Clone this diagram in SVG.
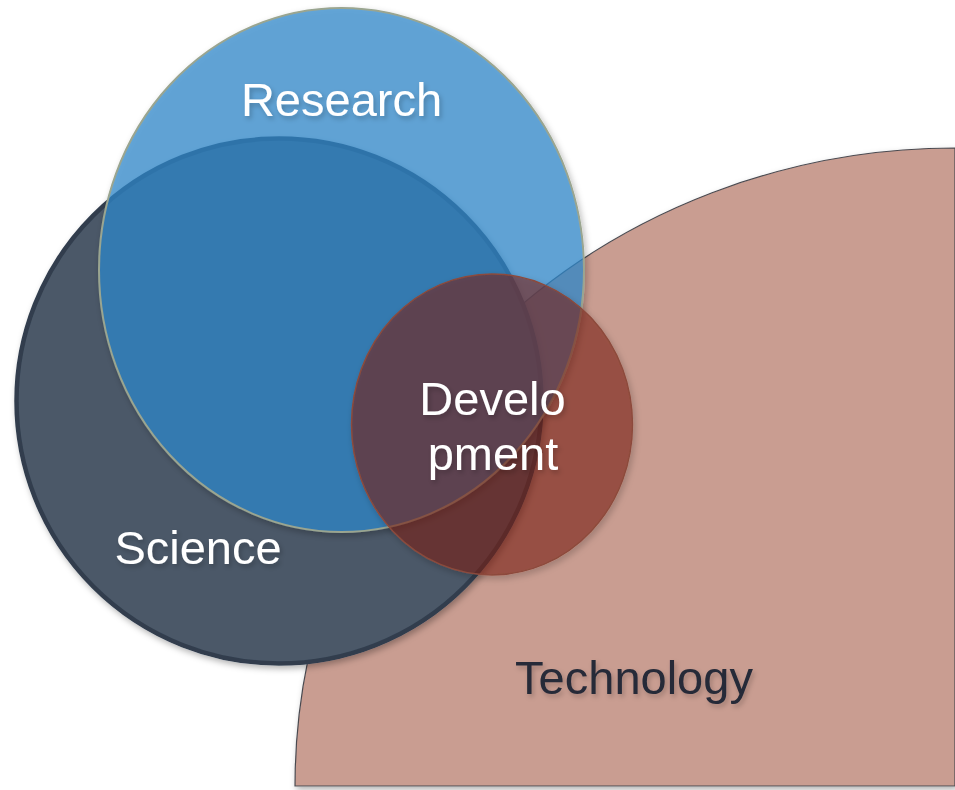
<svg xmlns="http://www.w3.org/2000/svg" width="955" height="790" viewBox="0 0 955 790">
<style>
  .lbl { font-family: "Liberation Sans", Arial, sans-serif; font-size: 47px; text-anchor: middle; }
  .w { fill: #ffffff; }
  .d { fill: #262a38; }
</style>
<defs>
  <filter id="sh" x="-10%" y="-10%" width="125%" height="125%">
    <feGaussianBlur in="SourceAlpha" stdDeviation="3"/>
    <feOffset dx="2" dy="3" result="b"/>
    <feComposite in="b" in2="SourceAlpha" operator="out" result="o"/>
    <feFlood flood-color="#000" flood-opacity="0.3"/>
    <feComposite in2="o" operator="in" result="s"/>
    <feMerge><feMergeNode in="s"/><feMergeNode in="SourceGraphic"/></feMerge>
  </filter>
  <filter id="tsh" x="-10%" y="-20%" width="130%" height="150%">
    <feGaussianBlur in="SourceAlpha" stdDeviation="2.5"/>
    <feOffset dx="2" dy="3" result="b"/>
    <feFlood flood-color="#000" flood-opacity="0.22"/>
    <feComposite in2="b" operator="in" result="s"/>
    <feMerge><feMergeNode in="s"/><feMergeNode in="SourceGraphic"/></feMerge>
  </filter>
</defs>
<rect width="955" height="790" fill="#ffffff"/>
<g id="technology">
  <path d="M955,148 A660,638 0 0 0 295,786 L955,786 Z" fill="#c99d91" stroke="#4a4a50" stroke-width="1.2" filter="url(#sh)"/>
  <text class="lbl d" x="634" y="694" filter="url(#tsh)">Technology</text>
</g>
<g id="science">
  <circle cx="279" cy="401" r="262.5" fill="#4b5868" stroke="#313e4e" stroke-width="4.5" filter="url(#sh)"/>
</g>
<g id="research">
  <ellipse cx="341.5" cy="270" rx="242.5" ry="262" fill="#2f85c9" fill-opacity="0.74" stroke="#9aa590" stroke-width="2" filter="url(#sh)"/>
  <text class="lbl w" x="341.5" y="116" filter="url(#tsh)">Research</text>
</g>
<g id="science-label">
  <text class="lbl w" x="198" y="564" filter="url(#tsh)">Science</text>
</g>
<g id="development">
  <ellipse cx="492" cy="424.5" rx="140.5" ry="150.5" fill="#7b1f10" fill-opacity="0.58" stroke="#8c4a3c" stroke-width="1.5" filter="url(#sh)"/>
  <text class="lbl w" x="492.5" y="415" filter="url(#tsh)">Develo</text>
  <text class="lbl w" x="493" y="470" filter="url(#tsh)">pment</text>
</g>
<g id="connectors"></g>
</svg>
